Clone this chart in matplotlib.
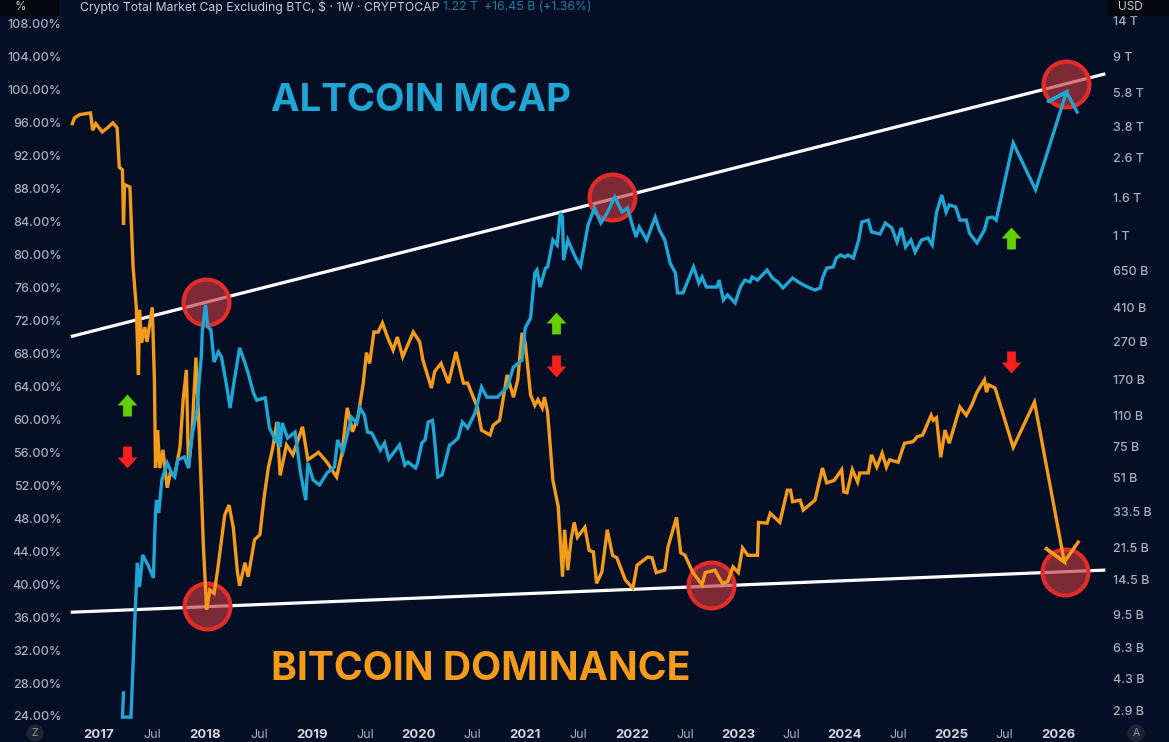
#!/usr/bin/env python
"""Bitcoin dominance vs altcoin market cap, weekly chart with trend channel."""

import matplotlib

matplotlib.use("Agg")
import matplotlib.pyplot as plt
from matplotlib.patches import Rectangle
from matplotlib.path import Path

BG = "#040f25"
ORANGE = "#f59b1c"
BLUE = "#1fa6d4"
GRAY = "#aab0bb"

dom_dates = [
    2016.75, 2016.77, 2016.82, 2016.87, 2016.92, 2016.93, 2016.94, 2016.97, 2017.03, 2017.08,
    2017.13, 2017.17, 2017.19, 2017.22, 2017.23, 2017.24, 2017.29, 2017.32, 2017.35, 2017.37,
    2017.38, 2017.40, 2017.43, 2017.45, 2017.50, 2017.52, 2017.53, 2017.55, 2017.57, 2017.60,
    2017.64, 2017.67, 2017.71, 2017.76, 2017.79, 2017.82, 2017.84, 2017.87, 2017.91, 2017.94,
    2017.98, 2018.01, 2018.04, 2018.08, 2018.11, 2018.15, 2018.18, 2018.22, 2018.26, 2018.30,
    2018.32, 2018.37, 2018.40, 2018.46, 2018.51, 2018.55, 2018.59, 2018.63, 2018.67, 2018.70,
    2018.76, 2018.82, 2018.91, 2018.96, 2019.06, 2019.14, 2019.23, 2019.28, 2019.33, 2019.38,
    2019.43, 2019.48, 2019.51, 2019.54, 2019.58, 2019.62, 2019.66, 2019.71, 2019.76, 2019.80,
    2019.85, 2019.95, 2020.01, 2020.04, 2020.12, 2020.15, 2020.21, 2020.28, 2020.35, 2020.42,
    2020.46, 2020.55, 2020.59, 2020.67, 2020.70, 2020.76, 2020.83, 2020.89, 2020.93, 2020.97,
    2021.00, 2021.03, 2021.05, 2021.09, 2021.12, 2021.16, 2021.18, 2021.21, 2021.26, 2021.31,
    2021.35, 2021.37, 2021.40, 2021.43, 2021.46, 2021.49, 2021.56, 2021.60, 2021.64, 2021.67,
    2021.72, 2021.77, 2021.82, 2021.86, 2021.94, 2022.01, 2022.05, 2022.11, 2022.15, 2022.19,
    2022.23, 2022.31, 2022.34, 2022.42, 2022.46, 2022.50, 2022.57, 2022.66, 2022.69, 2022.78,
    2022.85, 2022.90, 2022.95, 2023.00, 2023.04, 2023.09, 2023.18, 2023.19, 2023.27, 2023.30,
    2023.39, 2023.46, 2023.49, 2023.51, 2023.58, 2023.61, 2023.72, 2023.79, 2023.83, 2023.90,
    2023.97, 2023.99, 2024.02, 2024.07, 2024.12, 2024.14, 2024.22, 2024.25, 2024.30, 2024.35,
    2024.39, 2024.42, 2024.50, 2024.56, 2024.64, 2024.68, 2024.73, 2024.81, 2024.83, 2024.86,
    2024.90, 2024.94, 2024.98, 2025.08, 2025.14, 2025.19, 2025.24, 2025.31, 2025.33, 2025.35,
    2025.41, 2025.58, 2025.78, 2026.06, 2025.88, 2026.06, 2026.19,
]
dom_pct = [
    95.9, 96.6, 97.0, 97.1, 97.2, 96.3, 95.1, 95.9, 94.9, 95.4,
    96.0, 95.4, 90.6, 90.3, 83.6, 88.5, 88.2, 78.5, 73.6, 65.4,
    73.3, 69.3, 71.2, 69.4, 73.6, 64.8, 54.1, 58.7, 54.1, 56.3,
    51.7, 53.5, 53.2, 56.6, 62.4, 66.0, 54.1, 57.7, 67.5, 58.7,
    44.5, 36.9, 39.3, 38.9, 41.4, 45.4, 48.4, 49.6, 46.9, 41.4,
    39.8, 42.6, 40.9, 45.4, 46.0, 50.6, 54.2, 56.5, 59.7, 53.2,
    56.9, 55.7, 59.1, 55.1, 56.0, 54.8, 53.0, 55.9, 61.4, 58.5,
    60.3, 64.4, 68.1, 66.8, 70.6, 70.6, 71.7, 69.9, 68.4, 70.0,
    67.6, 70.6, 69.4, 67.2, 63.8, 65.8, 66.8, 64.4, 68.2, 64.4,
    64.4, 61.5, 58.7, 58.1, 59.3, 59.9, 65.4, 62.7, 64.8, 70.5,
    69.3, 65.6, 63.0, 61.7, 62.4, 61.4, 62.7, 60.9, 52.6, 49.4,
    40.9, 46.6, 41.7, 45.4, 47.5, 45.7, 46.9, 44.1, 43.9, 40.1,
    41.5, 46.6, 43.5, 43.2, 40.5, 39.5, 42.3, 42.9, 43.3, 43.2,
    41.4, 41.7, 44.5, 48.1, 43.8, 43.5, 41.5, 39.9, 41.4, 41.7,
    40.1, 40.3, 42.1, 41.4, 44.4, 43.5, 43.5, 47.5, 47.4, 48.6,
    47.5, 51.4, 51.4, 50.0, 50.2, 49.0, 50.2, 54.1, 52.3, 52.6,
    53.9, 51.2, 51.1, 53.9, 52.4, 53.5, 53.5, 55.7, 54.2, 55.9,
    54.2, 55.1, 54.8, 57.1, 57.3, 57.9, 58.1, 60.5, 59.9, 60.2,
    55.4, 58.7, 57.1, 61.5, 60.5, 61.7, 63.3, 64.8, 63.3, 64.2,
    63.8, 56.6, 62.1, 42.7, 44.4, 42.7, 45.1,
]

alt_dates = [
    2017.23, 2017.22, 2017.30, 2017.34, 2017.36, 2017.38, 2017.41, 2017.46, 2017.51, 2017.53,
    2017.54, 2017.56, 2017.59, 2017.64, 2017.69, 2017.71, 2017.74, 2017.80, 2017.84, 2017.87,
    2017.92, 2017.94, 2017.96, 2017.97, 2018.00, 2018.02, 2018.05, 2018.08, 2018.12, 2018.15,
    2018.20, 2018.23, 2018.27, 2018.32, 2018.37, 2018.40, 2018.45, 2018.48, 2018.56, 2018.60,
    2018.67, 2018.68, 2018.70, 2018.72, 2018.77, 2018.84, 2018.89, 2018.94, 2018.96, 2019.01,
    2019.07, 2019.14, 2019.21, 2019.24, 2019.29, 2019.37, 2019.42, 2019.45, 2019.49, 2019.52,
    2019.56, 2019.64, 2019.68, 2019.72, 2019.82, 2019.87, 2019.90, 2019.97, 2019.99, 2020.03,
    2020.06, 2020.09, 2020.13, 2020.15, 2020.18, 2020.22, 2020.29, 2020.32, 2020.37, 2020.41,
    2020.46, 2020.53, 2020.59, 2020.64, 2020.74, 2020.83, 2020.89, 2020.97, 2021.00, 2021.05,
    2021.09, 2021.11, 2021.14, 2021.19, 2021.21, 2021.26, 2021.30, 2021.33, 2021.35, 2021.36,
    2021.40, 2021.47, 2021.52, 2021.59, 2021.65, 2021.71, 2021.77, 2021.84, 2021.91, 2021.96,
    2022.00, 2022.04, 2022.07, 2022.14, 2022.22, 2022.26, 2022.31, 2022.36, 2022.41, 2022.43,
    2022.48, 2022.58, 2022.63, 2022.66, 2022.70, 2022.80, 2022.82, 2022.86, 2022.90, 2022.97,
    2023.02, 2023.06, 2023.11, 2023.13, 2023.18, 2023.27, 2023.32, 2023.37, 2023.42, 2023.51,
    2023.58, 2023.65, 2023.72, 2023.77, 2023.79, 2023.83, 2023.89, 2023.92, 2023.96, 2024.00,
    2024.03, 2024.08, 2024.13, 2024.16, 2024.22, 2024.25, 2024.33, 2024.38, 2024.44, 2024.49,
    2024.53, 2024.57, 2024.62, 2024.66, 2024.72, 2024.78, 2024.82, 2024.86, 2024.91, 2024.95,
    2024.98, 2025.04, 2025.08, 2025.14, 2025.17, 2025.24, 2025.31, 2025.34, 2025.39, 2025.42,
    2025.58, 2025.79, 2026.08, 2025.90, 2026.08, 2026.18,
]
# billions of USD
alt_mcap = [
    3.62, 2.69, 2.69, 10.0, 17.9, 13.3, 19.7, 17.4, 14.9, 33.0,
    38.7, 33.0, 49.5, 61.0, 52.7, 51.4, 63.3, 65.7, 57.4, 84.0,
    117, 169, 224, 313, 425, 325, 313, 211, 239, 224,
    155, 120, 169, 251, 208, 184, 144, 132, 136, 93.9,
    78.0, 101, 74.2, 99.7, 82.9, 89.2, 54.6, 38.7, 61.0, 49.5,
    46.6, 54.0, 58.1, 81.0, 69.9, 107, 99.7, 120, 110, 89.2,
    88.2, 71.5, 78.0, 64.1, 76.1, 59.5, 61.8, 57.4, 61.0, 78.0,
    81.0, 101, 103, 81.0, 51.4, 52.7, 76.1, 78.0, 82.9, 101,
    93.9, 113, 155, 137, 137, 155, 198, 216, 320, 362,
    629, 653, 530, 669, 678, 945, 888, 1320, 1250, 739,
    945, 766, 686, 1137, 1400, 1163, 1320, 1600, 1331, 1400,
    1163, 980, 1108, 945, 1250, 1067, 945, 712, 629, 493,
    493, 678, 556, 600, 530, 530, 577, 452, 481, 436,
    530, 577, 564, 600, 577, 653, 592, 564, 524, 592,
    556, 530, 511, 524, 592, 669, 678, 757, 786, 766,
    786, 757, 945, 1178, 1206, 1043, 1017, 1163, 1096, 922,
    1096, 866, 945, 815, 945, 968, 888, 1320, 1641, 1331,
    1453, 1418, 1206, 1206, 1028, 911, 1067, 1238, 1250, 1206,
    3110, 1750, 5820, 5150, 5820, 4550,
]

trend_dates = [2016.75, 2026.43]
upper_trend = [70.1, 101.9]
lower_trend = [36.6, 41.7]

touch_dates = [2018.00, 2018.01, 2021.81, 2022.74, 2026.08, 2026.07]
touch_pct = [74.2, 37.3, 87.0, 39.9, 100.7, 41.5]

up_dates = [2017.26, 2021.29, 2025.56]
up_pct = [61.7, 71.7, 82.0]
down_dates = [2017.26, 2021.29, 2025.56]
down_pct = [55.4, 66.5, 67.0]

left_ticks = list(range(24, 109, 4))
right_ticks = [2.9, 4.3, 6.3, 9.5, 14.5, 21.5, 33.5, 51, 75, 110, 170, 270, 410, 650,
               1000, 1600, 2600, 3800, 5800, 9000, 14000]
right_labels = ["2.9 B", "4.3 B", "6.3 B", "9.5 B", "14.5 B", "21.5 B", "33.5 B", "51 B", "75 B",
                "110 B", "170 B", "270 B", "410 B", "650 B", "1 T", "1.6 T", "2.6 T", "3.8 T",
                "5.8 T", "9 T", "14 T"]
year_ticks = [2017, 2018, 2019, 2020, 2021, 2022, 2023, 2024, 2025, 2026]
jul_ticks = [2017.5, 2018.5, 2019.5, 2020.5, 2021.5, 2022.5, 2023.5, 2024.5, 2025.5]

plt.rcParams["font.family"] = ["Inter", "DejaVu Sans"]

W, H = 1169, 742
fig = plt.figure(figsize=(W / 100, H / 100), dpi=100, facecolor=BG)
rect = [68 / W, 1 - 720 / H, (1106 - 68) / W, (720 - 14) / H]
ax = fig.add_axes(rect)
ax2 = fig.add_axes(rect, sharex=ax)
ax2.patch.set_visible(False)
ax.set_facecolor(BG)

ax2.plot(alt_dates, alt_mcap, color=BLUE, linewidth=2.4, solid_joinstyle="miter")
ax2.set_yscale("log")
ax2.set_ylim(2.596, 15168)
ax2.yaxis.tick_right()
ax2.set_yticks(right_ticks)
ax2.set_yticklabels(right_labels, fontweight="medium")
ax2.minorticks_off()
ax2.tick_params(axis="y", length=0, pad=5, labelsize=9, labelcolor=GRAY)

ax.plot(trend_dates, upper_trend, color="white", linewidth=2.3, zorder=2)
ax.plot(trend_dates, lower_trend, color="white", linewidth=2.3, zorder=2)
ax.scatter(touch_dates, touch_pct, s=1090, facecolor=(0.74, 0.22, 0.25, 0.66),
           edgecolor="#e22c2a", linewidth=3.0, zorder=3)
ax.plot(dom_dates, dom_pct, color=ORANGE, linewidth=2.4, solid_joinstyle="miter", zorder=4)

up_arrow = Path([(-0.4, -1), (0.4, -1), (0.4, 0), (0.9, 0), (0, 1), (-0.9, 0), (-0.4, 0), (-0.4, -1)], closed=True)
down_arrow = Path([(-0.4, 1), (0.4, 1), (0.4, 0), (0.9, 0), (0, -1), (-0.9, 0), (-0.4, 0), (-0.4, 1)], closed=True)
ax.scatter(up_dates, up_pct, marker=up_arrow, s=250, color="#62d000", linewidth=0, zorder=6)
ax.scatter(down_dates, down_pct, marker=down_arrow, s=250, color="#f8201c", linewidth=0, zorder=6)

ax.set_xlim(2016.709, 2026.451)
ax.set_ylim(23.51, 109.21)
ax.set_yticks(left_ticks)
ax.set_yticklabels([f"{v:.2f}%" for v in left_ticks], fontweight="medium")
ax.tick_params(axis="y", length=0, pad=4.5, labelsize=9, labelcolor=GRAY)
ax.set_xticks(year_ticks)
ax.set_xticklabels([str(y) for y in year_ticks], fontweight="bold", color="#d4d7dd", fontsize=9.5)
ax.set_xticks(jul_ticks, labels=["Jul"] * len(jul_ticks), minor=True)
ax.tick_params(axis="x", which="both", length=0, pad=6.5)
ax.tick_params(axis="x", which="minor", labelsize=9, labelcolor=GRAY)
ax2.tick_params(axis="x", which="both", length=0, labelbottom=False)
for a in (ax, ax2):
    for spine in a.spines.values():
        spine.set_visible(False)

ax.text(2018.61, 98.7, "ALTCOIN MCAP", color=BLUE, fontsize=27.6, fontweight="bold", va="center", ha="left")
ax.text(2018.61, 29.6, "BITCOIN DOMINANCE", color=ORANGE, fontsize=28.2, fontweight="bold", va="center", ha="left")

# header strip of the screenshot, right at the top edge
fig.patches.append(Rectangle((0, 1 - 15 / H), 58 / W, 15 / H, transform=fig.transFigure, color="#05070c"))
fig.patches.append(Rectangle((1108 / W, 1 - 15 / H), 61 / W, 15 / H, transform=fig.transFigure, color="#05070c"))
fig.text(15 / W, 1 - 1 / H, "%", color="#c8ccd2", fontsize=8.5, va="top")
fig.text(1118 / W, 1 - 1 / H, "USD", color="#c8ccd2", fontsize=8.5, va="top")
fig.text(80 / W, 1 - 1 / H, "Crypto Total Market Cap Excluding BTC, $ · 1W · CRYPTOCAP", color="#c8ccd2",
         fontsize=8.8, va="top")
fig.text(443 / W, 1 - 1 / H, "1.22 T", color="#1b7f9e", fontsize=8.8, va="top")
fig.text(484 / W, 1 - 1 / H, "+16.45 B (+1.36%)", color="#1b7f9e", fontsize=8.8, va="top")
for x, letter in ((35, "Z"), (1136, "A")):
    fig.text(x / W, 1 - 733 / H, letter, color="#8d929b", fontsize=7.5, ha="center", va="center",
             bbox=dict(boxstyle="circle,pad=0.35", facecolor="#1d2533", edgecolor="none"))

fig.savefig("out.png", dpi=100, facecolor=BG)
plt.close(fig)
